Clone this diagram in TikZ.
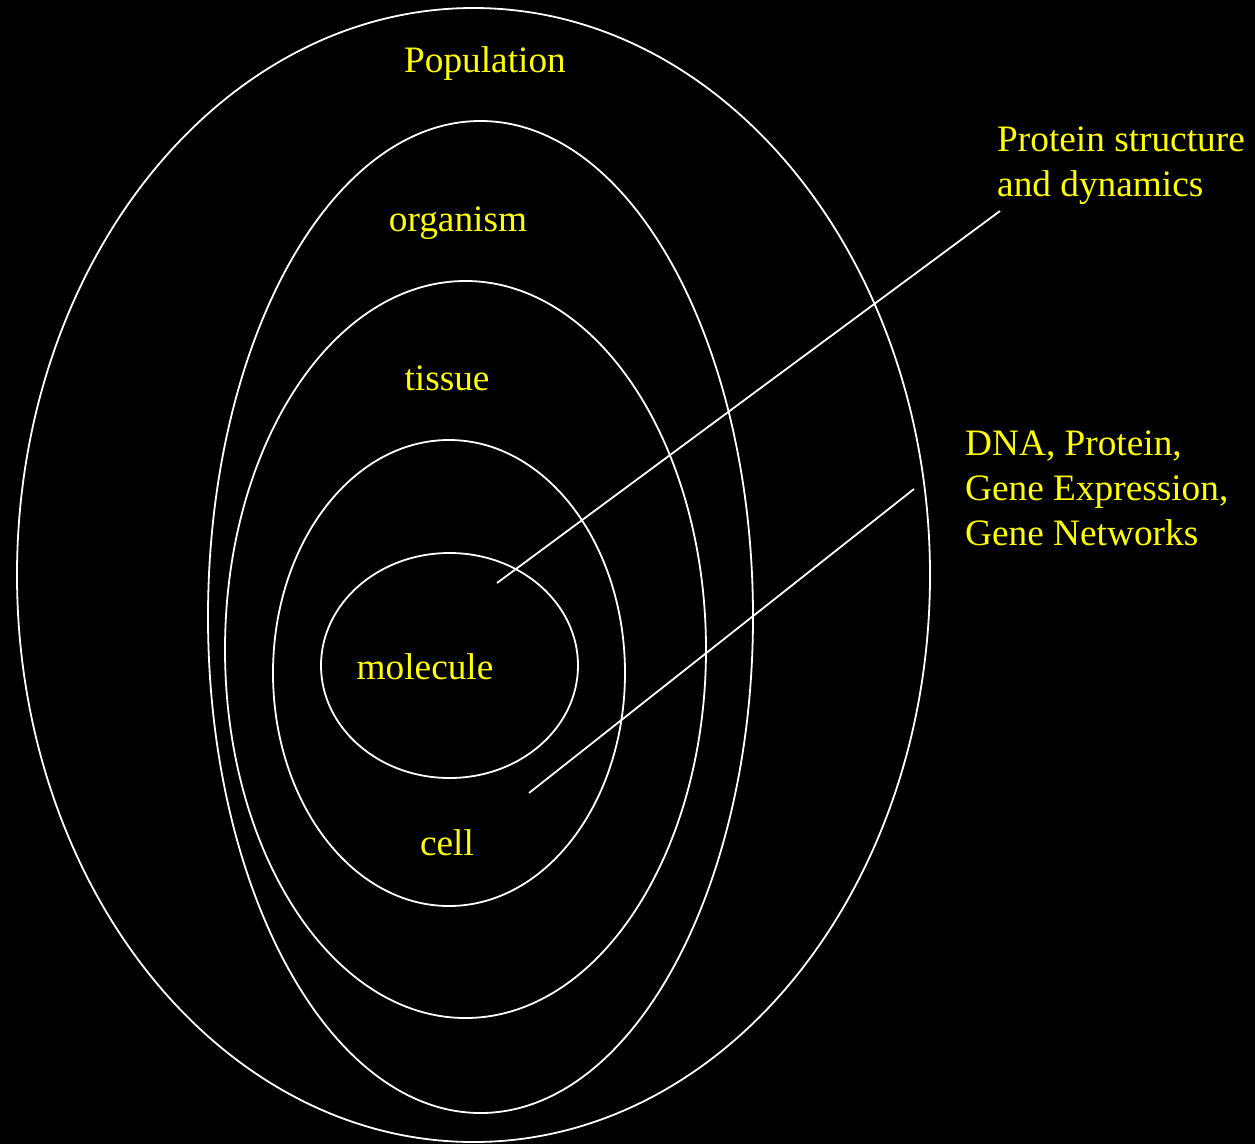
\documentclass[tikz,border=0pt]{standalone}
\usepackage{fontspec}
\setmainfont{Liberation Serif}
\usetikzlibrary{shapes.geometric}
\definecolor{labelyellow}{RGB}{255,255,0}
\begin{document}
\begin{tikzpicture}[x=1pt,y=-1pt,
  level/.style={draw=white,line width=1.8pt,ellipse,inner sep=0pt},
  lbl/.style={text=labelyellow,font=\fontsize{37.3}{45}\selectfont,inner sep=0pt},
  pointer/.style={draw=white,line width=1.8pt}]
  % black page
  \fill[black] (0,0) rectangle (1255,1144);
  \useasboundingbox (0,0) rectangle (1255,1144);

  % nested levels of organisation
  \node[level,minimum width=913pt,minimum height=1134pt] (population) at (473.5,575) {};
  \node[level,minimum width=545pt,minimum height=992pt] (organism) at (480.5,617) {};
  \node[level,minimum width=481pt,minimum height=737pt] (tissue) at (465.5,649.5) {};
  \node[level,minimum width=352pt,minimum height=466pt] (cell) at (449,673) {};
  \node[level,minimum width=257pt,minimum height=225pt] (molecule) at (449.5,665.5) {};

  % level names
  \node[lbl,anchor=base] (tPopulation) at (485,72) {Population};
  \node[lbl,anchor=base] (tOrganism) at (458,231) {organism};
  \node[lbl,anchor=base] (tTissue) at (447,390) {tissue};
  \node[lbl,anchor=base] (tMolecule) at (425,679) {molecule};
  \node[lbl,anchor=base] (tCell) at (447,855) {cell};

  % side notes (base anchor sits on the last line)
  \node[lbl,anchor=base west,align=left] (protein) at (997,196)
    {Protein structure\\and dynamics};
  \node[lbl,anchor=base west,align=left] (genes) at (965,545)
    {DNA, Protein,\\Gene Expression,\\Gene Networks};

  % pointer lines
  \coordinate (pA) at (497,583);
  \coordinate (pB) at (1000,211);
  \coordinate (gA) at (529,793);
  \coordinate (gB) at (914,489);
  \draw[pointer] (pA) -- (pB);
  \draw[pointer] (gA) -- (gB);
\end{tikzpicture}
\end{document}
